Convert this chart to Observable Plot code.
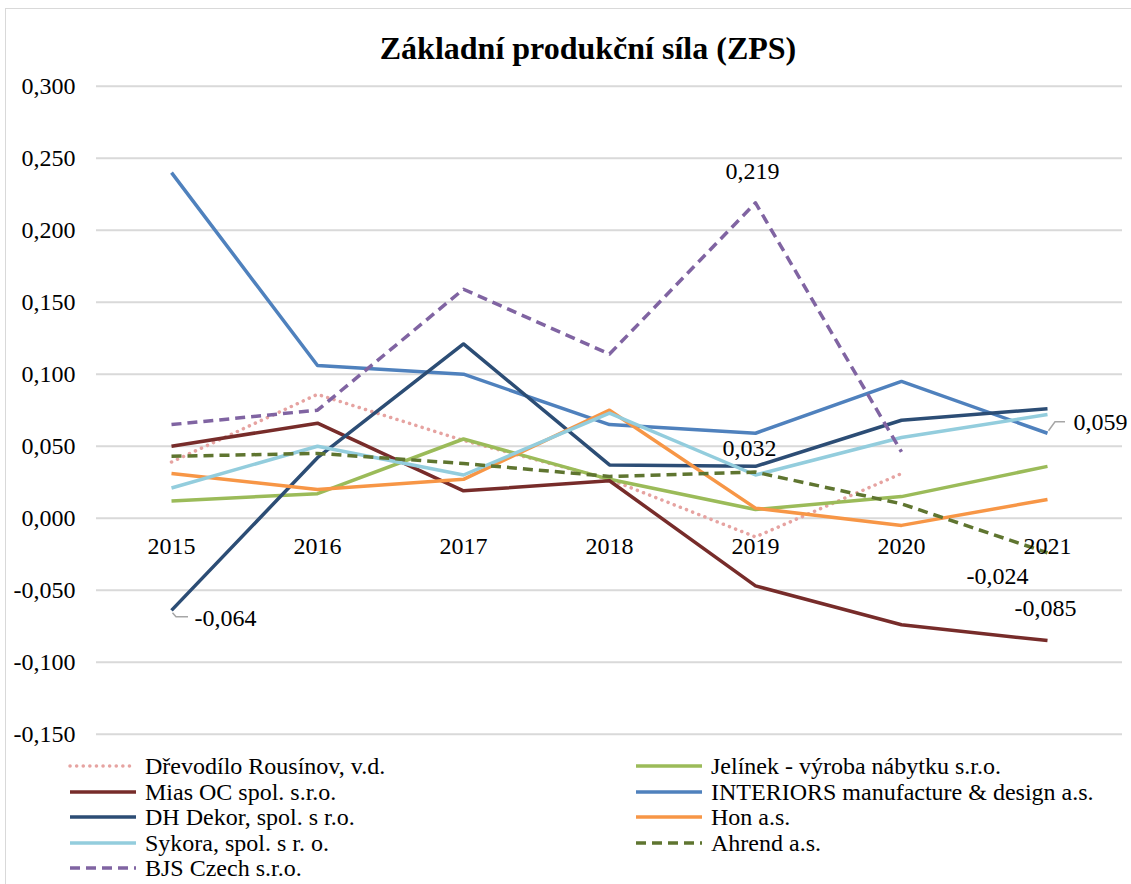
<!DOCTYPE html>
<html><head><meta charset="utf-8">
<script src="https://cdn.jsdelivr.net/npm/d3@7"></script>
<script src="https://cdn.jsdelivr.net/npm/@observablehq/plot@0.6"></script>
<style>
body{margin:0;background:#fff;font-family:"Liberation Serif","Times New Roman",serif;color:#000;}
#wrap{position:relative;width:1131px;height:884px;overflow:hidden;}
#frame{position:absolute;left:5px;top:8px;width:1300px;height:1000px;border-left:1.5px solid #d9d9d9;border-top:1.5px solid #d9d9d9;}
#title{position:absolute;left:0;width:1176px;top:30px;text-align:center;font-weight:bold;font-size:32px;line-height:36px;}
#chart{position:absolute;left:0;top:0;}
#chart svg{overflow:visible;}
#legend{position:absolute;left:68px;top:756px;display:grid;grid-template-columns:566px 480px;row-gap:5.6px;font-size:24px;line-height:20px;}
.item{display:flex;align-items:center;height:20px;white-space:nowrap;}
.item svg{margin-right:7px;flex:none;}
</style></head>
<body><div id="wrap"><div id="frame"></div><div id="chart"></div><div id="title">Základní produkční síla (ZPS)</div><div id="legend"></div></div>
<script>
const years = [2015, 2016, 2017, 2018, 2019, 2020, 2021];
const seriesNames = [
  "Dřevodílo Rousínov, v.d.",
  "Jelínek - výroba nábytku s.r.o.",
  "Mias OC spol. s.r.o.",
  "INTERIORS manufacture & design a.s.",
  "DH Dekor, spol. s r.o.",
  "Hon a.s.",
  "Sykora, spol. s r. o.",
  "Ahrend a.s.",
  "BJS Czech s.r.o."
];
const drevodilo = [0.039, 0.086, 0.054, 0.027, -0.013, 0.031, null];
const jelinek   = [0.012, 0.017, 0.055, 0.027, 0.006, 0.015, 0.036];
const mias      = [0.050, 0.066, 0.019, 0.026, -0.047, -0.074, -0.085];
const interiors = [0.240, 0.106, 0.100, 0.065, 0.059, 0.095, 0.059];
const dhDekor   = [-0.064, 0.042, 0.121, 0.037, 0.036, 0.068, 0.076];
const hon       = [0.031, 0.020, 0.027, 0.075, 0.007, -0.005, 0.013];
const sykora    = [0.021, 0.050, 0.030, 0.073, 0.030, 0.056, 0.072];
const ahrend    = [0.043, 0.045, 0.038, 0.029, 0.032, 0.010, -0.024];
const bjs       = [0.065, 0.075, 0.159, 0.114, 0.219, 0.046, null];
const seriesValues = [drevodilo, jelinek, mias, interiors, dhDekor, hon, sykora, ahrend, bjs];
const yTicks = [-0.15, -0.10, -0.05, 0, 0.05, 0.10, 0.15, 0.20, 0.25, 0.30];
// labelled points: [series index, year]
const labelPoints = [[4, 2015], [8, 2019], [7, 2019], [3, 2021], [7, 2021], [2, 2021]];

// styles
const styles = [
  {stroke: "#e6a3a1", dash: "0.1 6.5", cap: "round", width: 3.5},
  {stroke: "#9bbb59", dash: null, cap: "butt", width: 3.5},
  {stroke: "#772c2a", dash: null, cap: "butt", width: 3.5},
  {stroke: "#4f81bd", dash: null, cap: "butt", width: 3.5},
  {stroke: "#2c4d75", dash: null, cap: "butt", width: 3.5},
  {stroke: "#f79646", dash: null, cap: "butt", width: 3.5},
  {stroke: "#93cddd", dash: null, cap: "butt", width: 3.5},
  {stroke: "#5f7530", dash: "10 6", cap: "butt", width: 3.5},
  {stroke: "#8064a2", dash: "10 6", cap: "butt", width: 3.5}
];
const labelStyle = [
  {anchor: "start", dx: 23, dy: 8, leader: [[1.5, 3], [5, 7], [17, 7]]},
  {anchor: "middle", dx: -3, dy: -32},
  {anchor: "middle", dx: -6, dy: -24},
  {anchor: "start", dx: 26, dy: -11, leader: [[1.5, -2], [8, -11], [18, -11]]},
  {anchor: "middle", dx: -50, dy: 24},
  {anchor: "middle", dx: -2, dy: -32}
];
const fontPx = 24;

const locale = d3.formatLocale({decimal: ",", thousands: " ", grouping: [3], currency: ["", ""], minus: "-"});
const fmt = locale.format(".3f");

const rows = [];
seriesNames.forEach((s, i) => years.forEach((yr, j) => {
  const v = seriesValues[i][j];
  if (v != null) rows.push({series: s, si: i, year: yr, value: v});
}));
const labels = labelPoints.map(([si, yr], k) => ({
  si, year: yr, value: seriesValues[si][years.indexOf(yr)], k
}));

const lineMarks = seriesNames.map((s, i) => Plot.line(rows.filter(d => d.si === i), {
  x: "year", y: "value", stroke: styles[i].stroke, strokeWidth: styles[i].width,
  strokeDasharray: styles[i].dash || undefined, strokeLinecap: styles[i].cap, strokeLinejoin: "round"
}));

const labelMarks = labels.map(d => Plot.text([d], {
  x: "year", y: "value", text: v => fmt(v.value), textAnchor: labelStyle[d.k].anchor,
  dx: labelStyle[d.k].dx, dy: labelStyle[d.k].dy, fontSize: fontPx, fill: "#000"
}));

function leaderMark(d) {
  const st = labelStyle[d.k];
  return (index, scales) => {
    const x0 = scales.x(d.year), y0 = scales.y(d.value);
    const p = d3.path();
    p.moveTo(x0 + st.leader[0][0], y0 + st.leader[0][1]);
    st.leader.slice(1).forEach(([a, b]) => p.lineTo(x0 + a, y0 + b));
    const el = document.createElementNS("http://www.w3.org/2000/svg", "path");
    el.setAttribute("d", p.toString());
    el.setAttribute("fill", "none");
    el.setAttribute("stroke", "#a6a6a6");
    el.setAttribute("stroke-width", "1.5");
    return el;
  };
}
const leaders = labels.filter(d => labelStyle[d.k].leader).map(leaderMark);

const chart = Plot.plot({
  width: 1131, height: 760,
  marginLeft: 96, marginRight: 9, marginTop: 85.7, marginBottom: 26.3,
  style: {fontFamily: "'Liberation Serif','Times New Roman',serif", fontSize: fontPx + "px", background: "transparent", color: "#000", overflow: "visible"},
  x: {type: "point", domain: years, padding: 0.5, axis: null},
  y: {domain: [-0.15, 0.3], axis: null},
  marks: [
    Plot.gridY(yTicks, {stroke: "#d9d9d9", strokeOpacity: 1, strokeWidth: 2}),
    Plot.axisY(yTicks, {tickSize: 0, tickPadding: 21, tickFormat: fmt, fontSize: fontPx, fill: "#000", label: null}),
    ...lineMarks,
    Plot.text(years, {x: d => d, y: () => 0, text: d => String(d), dy: 28, fontSize: fontPx, fill: "#000"}),
    ...leaders,
    ...labelMarks
  ]
});
document.getElementById("chart").appendChild(chart);

// legend
const legend = document.getElementById("legend");
seriesNames.forEach((s, i) => {
  const st = styles[i];
  const item = document.createElement("div");
  item.className = "item";
  item.innerHTML = `<svg width="70" height="12"><line x1="2" x2="68" y1="6" y2="6" stroke="${st.stroke}" stroke-width="${st.width}" ${st.dash ? `stroke-dasharray="${st.dash}"` : ""} stroke-linecap="${st.cap}"/></svg>`;
  const span = document.createElement("span");
  span.textContent = s;
  item.appendChild(span);
  legend.appendChild(item);
});
</script>
</body></html>
